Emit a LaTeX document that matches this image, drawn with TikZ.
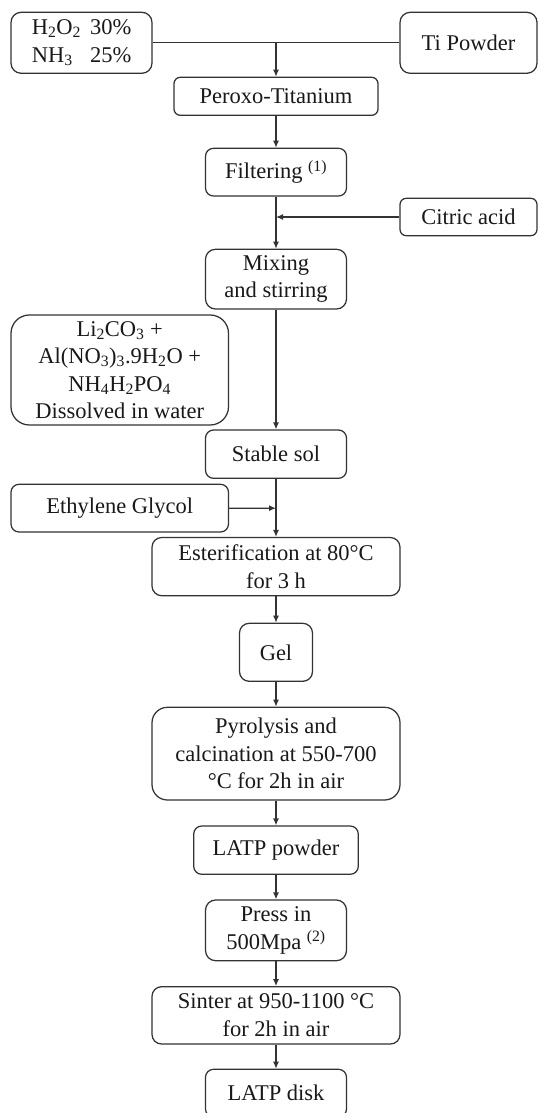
\documentclass[tikz,border=0pt]{standalone}
\usepackage{fontspec}
\setmainfont{Liberation Serif}
\usetikzlibrary{arrows.meta}
\newcommand{\sbs}[1]{\textsubscript{#1}}
\newcommand{\mybox}[6]{%
  \pgfmathsetmacro{\bw}{#4-#2}%
  \pgfmathsetmacro{\bh}{#5-#3}%
  \pgfmathsetmacro{\br}{0.1667*min(\bw,\bh)}%
  \node[procbox, minimum width=\bw pt, minimum height=\bh pt, rounded corners=\br pt]
    (#1) at ({(#2+#4)/2},{(#3+#5)/2}) {#6};}
\begin{document}
\begin{tikzpicture}[x=1pt,y=-1pt,
  procbox/.style={draw=black!80, line width=1.25pt, inner sep=0pt, align=center,
    text=black!90, font=\fontsize{22.5}{27.5}\selectfont},
  arr/.style={draw=black!80, line width=1.25pt, -{Latex[length=7pt,width=6pt]}},
  ln/.style={draw=black!80, line width=1.25pt}]
\useasboundingbox (0,0) rectangle (538,1113);
\fill[white] (0,0) rectangle (538,1113);

\mybox{hno}{11}{12.3}{152}{73.3}{\begin{tabular}{@{}l@{\hspace{9pt}}l@{}}H\sbs{2}O\sbs{2} & 30\%\\ NH\sbs{3} & 25\%\end{tabular}}
\mybox{ti}{400}{12.3}{537}{73.3}{Ti Powder}
\mybox{perox}{174}{77.3}{378}{115.3}{Peroxo-Titanium}
\mybox{filt}{205.5}{148.3}{346.5}{196}{Filtering \textsuperscript{(1)}}
\mybox{cit}{400}{198.3}{537}{235.7}{Citric acid}
\mybox{mix}{205.5}{249.3}{346.5}{309}{Mixing\\and stirring}
\mybox{li}{11}{315}{228.5}{425}{Li\sbs{2}CO\sbs{3} +\\Al(NO\sbs{3})\sbs{3}.9H\sbs{2}O +\\NH\sbs{4}H\sbs{2}PO\sbs{4}\\Dissolved in water}
\mybox{sol}{205.5}{430}{346.5}{478.3}{Stable sol}
\mybox{eg}{11}{484.3}{228.5}{532}{Ethylene Glycol}
\mybox{ester}{152}{537.5}{400}{595.7}{Esterification at 80°C\\for 3 h}
\mybox{gel}{239.5}{623.3}{312.5}{681.3}{Gel}
\mybox{pyro}{152}{707.3}{400}{800}{Pyrolysis and\\calcination at 550-700\\°C for 2h in air}
\mybox{lpow}{193.7}{826}{358.3}{874.3}{LATP powder}
\mybox{press}{205.5}{900}{346.5}{960.7}{Press in\\500Mpa \textsuperscript{(2)}}
\mybox{sinter}{152}{986.7}{400}{1044}{Sinter at 950-1100 °C\\for 2h in air}
\mybox{disk}{205.5}{1069.3}{346.5}{1117}{LATP disk}

\coordinate (j1) at (276,42.8);
\coordinate (j2) at (276,217);
\coordinate (j3) at (276,508.2);

\draw[ln] (hno.east) -- (ti.west);
\draw[arr] (j1) -- (perox.north);
\draw[arr] (perox) -- (filt);
\draw[arr] (filt) -- (mix);
\draw[arr] (cit.west) -- (j2);
\draw[arr] (mix) -- (sol);
\draw[arr] (sol) -- (ester);
\draw[arr] (eg.east) -- (j3);
\draw[arr] (ester) -- (gel);
\draw[arr] (gel) -- (pyro);
\draw[arr] (pyro) -- (lpow);
\draw[arr] (lpow) -- (press);
\draw[arr] (press) -- (sinter);
\draw[arr] (sinter) -- (disk);
\end{tikzpicture}
\end{document}
